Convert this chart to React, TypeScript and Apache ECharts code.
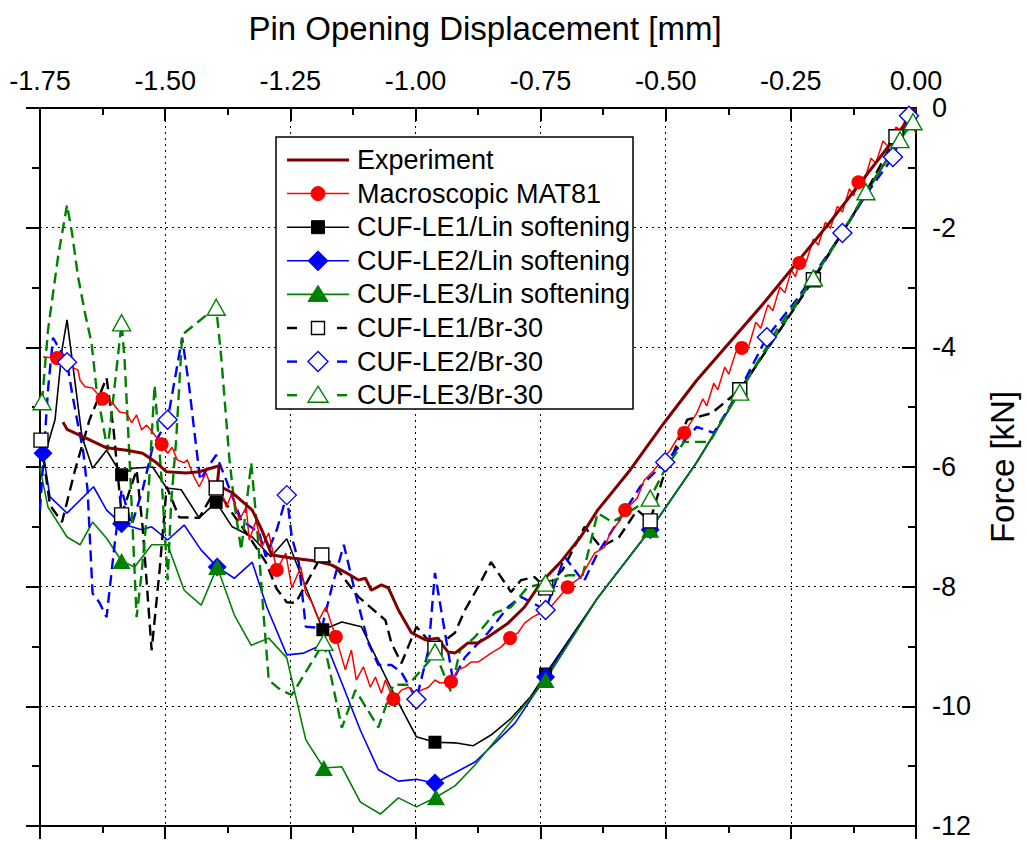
import React, { useEffect, useRef } from "react";
import * as echarts from "echarts";

type P = [number, number];

// ---------- data (x = pin opening displacement [mm], y = force [kN]) ----------
const experiment: P[] = [
  [-1.704,-5.25],[-1.696,-5.37],[-1.657,-5.52],[-1.617,-5.68],[-1.577,-5.72],[-1.545,-5.77],[-1.517,-5.93],[-1.497,-6.08],
  [-1.458,-6.10],[-1.432,-6.08],[-1.392,-5.98],[-1.396,-6.30],[-1.366,-6.43],[-1.326,-6.72],[-1.307,-7.05],[-1.287,-7.47],
  [-1.247,-7.52],[-1.199,-7.57],[-1.167,-7.64],[-1.140,-7.76],[-1.114,-7.89],[-1.100,-7.86],[-1.088,-8.06],[-1.068,-7.97],
  [-1.054,-8.02],[-1.034,-8.39],[-1.008,-8.77],[-0.980,-8.89],[-0.955,-8.86],[-0.949,-8.94],[-0.935,-9.09],[-0.921,-9.11],
  [-0.895,-8.94],[-0.875,-8.94],[-0.855,-8.84],[-0.815,-8.61],[-0.782,-8.34],[-0.750,-7.94],[-0.710,-7.59],[-0.670,-7.17],
  [-0.636,-6.72],[-0.571,-6.05],[-0.503,-5.26],[-0.438,-4.55],[-0.304,-3.26],[-0.173,-1.92],[-0.040,-0.48],[0,0]
];

const mat81: P[] = [
  [-1.744,-4.16],[-1.716,-4.18],[-1.686,-4.33],[-1.674,-4.38],[-1.670,-4.55],[-1.660,-4.66],[-1.645,-4.68],[-1.637,-4.76],
  [-1.625,-4.86],[-1.605,-4.93],[-1.591,-5.08],[-1.577,-5.10],[-1.567,-5.26],[-1.557,-5.13],[-1.547,-5.38],[-1.537,-5.30],
  [-1.525,-5.42],[-1.507,-5.62],[-1.495,-5.77],[-1.486,-5.67],[-1.476,-5.88],[-1.462,-5.93],[-1.456,-5.88],[-1.442,-6.17],
  [-1.432,-6.33],[-1.418,-6.10],[-1.406,-6.38],[-1.392,-6.27],[-1.378,-6.67],[-1.366,-6.43],[-1.352,-6.89],[-1.338,-6.67],
  [-1.332,-7.22],[-1.318,-6.89],[-1.307,-7.34],[-1.293,-7.10],[-1.277,-7.72],[-1.259,-7.44],[-1.247,-8.02],[-1.229,-7.67],
  [-1.219,-8.11],[-1.207,-8.26],[-1.193,-8.56],[-1.179,-8.34],[-1.159,-8.84],[-1.140,-9.39],[-1.128,-9.06],[-1.118,-9.56],
  [-1.104,-9.34],[-1.090,-9.68],[-1.080,-9.51],[-1.068,-9.78],[-1.060,-9.56],[-1.044,-9.88],[-1.028,-9.73],[-1.014,-9.68],
  [-1.000,-9.78],[-0.988,-9.73],[-0.974,-9.68],[-0.961,-9.56],[-0.951,-9.61],[-0.929,-9.59],[-0.915,-9.39],[-0.901,-9.34],
  [-0.889,-9.26],[-0.875,-9.26],[-0.861,-9.18],[-0.849,-9.11],[-0.829,-9.01],[-0.811,-8.86],[-0.795,-8.77],[-0.782,-8.61],
  [-0.766,-8.51],[-0.750,-8.44],[-0.730,-8.34],[-0.696,-8.01],[-0.670,-7.84],[-0.642,-7.44],[-0.622,-7.34],[-0.611,-7.10],
  [-0.591,-6.89],[-0.581,-6.72],[-0.557,-6.52],[-0.543,-6.22],[-0.523,-6.05],[-0.503,-5.83],[-0.491,-5.72],[-0.473,-5.47],
  [-0.463,-5.43],[-0.438,-5.10],[-0.426,-4.86],[-0.418,-4.98],[-0.404,-4.60],[-0.396,-4.71],[-0.382,-4.33],[-0.374,-4.45],
  [-0.360,-4.08],[-0.348,-4.01],[-0.334,-3.98],[-0.320,-3.58],[-0.310,-3.68],[-0.296,-3.29],[-0.286,-3.39],[-0.272,-2.99],
  [-0.262,-3.09],[-0.249,-2.71],[-0.241,-2.82],[-0.233,-2.59],[-0.219,-2.56],[-0.205,-2.19],[-0.195,-2.29],[-0.181,-1.91],
  [-0.171,-2.01],[-0.157,-1.64],[-0.147,-1.74],[-0.133,-1.35],[-0.125,-1.47],[-0.115,-1.24],[-0.103,-1.22],[-0.090,-0.84],
  [-0.080,-0.92],[-0.066,-0.55],[-0.056,-0.64],[-0.040,-0.32],[-0.030,-0.37],[-0.018,-0.13],[-0.010,-0.27],[0,-0.42]
];
const mat81Marks: P[] = [
  [-1.716,-4.18],[-1.625,-4.86],[-1.507,-5.62],[-1.277,-7.72],[-1.159,-8.84],[-1.044,-9.88],[-0.929,-9.59],
  [-0.811,-8.86],[-0.696,-8.01],[-0.581,-6.72],[-0.463,-5.43],[-0.348,-4.01],[-0.233,-2.59],[-0.115,-1.24]
];

// common elastic branch of the three linear-softening models
const linTail: P[] = [
  [-0.636,-8.19],[-0.531,-7.05],[-0.438,-5.92],[-0.338,-4.55],[-0.239,-3.29],[-0.139,-1.96],[-0.040,-0.62],[0,0]
];

const le1Lin: P[] = [
  [-1.750,-5.68],[-1.736,-5.67],[-1.720,-5.21],[-1.706,-4.04],[-1.696,-3.54],[-1.666,-5.50],[-1.645,-6.02],[-1.617,-5.72],
  [-1.587,-6.13],[-1.565,-6.02],[-1.525,-6.00],[-1.497,-6.35],[-1.468,-6.38],[-1.432,-6.85],[-1.398,-6.59],[-1.366,-7.00],
  [-1.326,-7.17],[-1.289,-7.50],[-1.257,-7.20],[-1.219,-8.01],[-1.185,-8.72],[-1.147,-8.59],[-1.108,-8.67],[-1.074,-9.26],
  [-1.040,-9.84],[-0.998,-10.51],[-0.961,-10.60],[-0.921,-10.61],[-0.885,-10.66],[-0.849,-10.48],[-0.809,-10.20],
  [-0.770,-9.84],[-0.740,-9.46]
];
const le1LinMarks: P[] = [[-1.587,-6.13],[-1.398,-6.59],[-1.185,-8.72],[-0.961,-10.60],[-0.740,-9.46],[-0.531,-7.05]];

const le2Lin: P[] = [
  [-1.750,-5.67],[-1.744,-5.77],[-1.730,-6.50],[-1.696,-6.77],[-1.643,-6.33],[-1.617,-6.72],[-1.587,-6.95],[-1.547,-7.05],
  [-1.527,-7.00],[-1.495,-7.22],[-1.462,-6.97],[-1.428,-7.39],[-1.396,-7.67],[-1.362,-7.86],[-1.326,-7.59],[-1.297,-8.34],
  [-1.257,-9.14],[-1.223,-9.11],[-1.179,-8.94],[-1.147,-9.61],[-1.110,-10.40],[-1.074,-11.06],[-1.034,-11.25],
  [-0.998,-11.22],[-0.961,-11.28],[-0.921,-11.11],[-0.881,-10.93],[-0.841,-10.61],[-0.801,-10.28],[-0.740,-9.51]
];
const le2LinMarks: P[] = [[-1.744,-5.77],[-1.587,-6.95],[-1.396,-7.67],[-0.961,-11.28],[-0.740,-9.51],[-0.531,-7.05]];

const le3Lin: P[] = [
  [-1.750,-6.02],[-1.734,-6.67],[-1.696,-7.17],[-1.670,-7.30],[-1.645,-6.92],[-1.617,-7.19],[-1.587,-7.57],[-1.561,-7.67],
  [-1.527,-7.30],[-1.495,-7.30],[-1.462,-8.06],[-1.428,-8.31],[-1.396,-7.67],[-1.362,-8.47],[-1.328,-8.98],[-1.293,-8.86],
  [-1.257,-9.19],[-1.219,-10.56],[-1.183,-11.03],[-1.147,-11.01],[-1.110,-11.60],[-1.070,-11.80],[-1.034,-11.53],
  [-0.998,-11.68],[-0.959,-11.52],[-0.921,-11.33],[-0.881,-10.98],[-0.740,-9.56]
];
const le3LinMarks: P[] = [[-1.587,-7.57],[-1.396,-7.67],[-1.183,-11.03],[-0.959,-11.52],[-0.740,-9.56],[-0.531,-7.05]];

const le1Br: P[] = [
  [-1.748,-5.55],[-1.730,-6.64],[-1.706,-6.92],[-1.680,-6.05],[-1.651,-5.21],[-1.631,-4.80],[-1.617,-4.51],[-1.603,-5.38],
  [-1.587,-6.80],[-1.557,-6.05],[-1.545,-7.00],[-1.527,-9.06],[-1.511,-7.72],[-1.497,-6.33],[-1.472,-6.84],[-1.432,-6.85],
  [-1.398,-6.35],[-1.366,-6.77],[-1.332,-7.17],[-1.299,-7.59],[-1.277,-8.04],[-1.257,-8.26],[-1.239,-8.27],[-1.187,-7.47],
  [-1.159,-7.67],[-1.140,-7.89],[-1.114,-8.17],[-1.060,-8.56],[-1.048,-8.94],[-1.028,-9.28],[-0.998,-8.67],[-0.980,-8.84],
  [-0.961,-9.03],[-0.921,-8.77],[-0.901,-8.39],[-0.875,-8.01],[-0.849,-7.59],[-0.809,-8.09],[-0.789,-7.89],[-0.762,-7.84],
  [-0.740,-8.02],[-0.706,-7.72],[-0.662,-7.00],[-0.630,-7.34],[-0.593,-7.17],[-0.557,-6.72],[-0.531,-6.90],[-0.507,-6.22],
  [-0.457,-5.21],[-0.408,-5.10],[-0.352,-4.71],[-0.278,-3.79],[-0.205,-2.87],[-0.119,-1.70],[-0.040,-0.48],[0,0]
];
const le1BrMarks: P[] = [
  [-1.748,-5.55],[-1.587,-6.80],[-1.398,-6.35],[-1.187,-7.47],[-0.961,-9.03],[-0.740,-8.02],[-0.531,-6.90],
  [-0.352,-4.71],[-0.205,-2.87],[-0.040,-0.48]
];

const le2Br: P[] = [
  [-1.750,-6.72],[-1.742,-5.72],[-1.734,-4.71],[-1.724,-3.84],[-1.710,-4.04],[-1.696,-4.25],[-1.686,-4.76],[-1.676,-5.21],
  [-1.664,-5.72],[-1.655,-6.38],[-1.645,-8.11],[-1.631,-8.27],[-1.617,-8.51],[-1.601,-7.30],[-1.587,-6.38],[-1.567,-6.97],
  [-1.545,-6.38],[-1.525,-5.67],[-1.495,-5.21],[-1.466,-3.84],[-1.452,-4.66],[-1.442,-5.38],[-1.430,-6.22],[-1.412,-5.97],
  [-1.398,-5.80],[-1.378,-6.22],[-1.348,-6.89],[-1.312,-7.10],[-1.299,-7.50],[-1.277,-7.05],[-1.257,-6.47],[-1.247,-7.17],
  [-1.233,-7.60],[-1.219,-8.67],[-1.187,-8.69],[-1.167,-8.01],[-1.143,-7.30],[-1.120,-8.11],[-1.094,-8.94],[-1.074,-9.31],
  [-1.048,-9.31],[-1.028,-9.43],[-0.998,-9.88],[-0.974,-9.06],[-0.961,-7.77],[-0.941,-8.77],[-0.925,-9.56],[-0.901,-9.18],
  [-0.855,-8.77],[-0.815,-8.34],[-0.789,-8.17],[-0.740,-8.39],[-0.702,-7.50],[-0.664,-7.92],[-0.636,-7.44],[-0.551,-6.33],
  [-0.501,-5.92],[-0.438,-5.33],[-0.404,-5.43],[-0.352,-4.71],[-0.298,-3.83],[-0.239,-3.21],[-0.147,-2.09],[-0.100,-1.45],
  [-0.046,-0.82],[-0.014,-0.13],[0,0]
];
const le2BrMarks: P[] = [
  [-1.696,-4.25],[-1.495,-5.21],[-1.257,-6.47],[-0.998,-9.88],[-0.740,-8.39],[-0.501,-5.92],[-0.298,-3.83],
  [-0.147,-2.09],[-0.046,-0.82],[-0.014,-0.13]
];

const le3Br: P[] = [
  [-1.746,-4.91],[-1.734,-3.71],[-1.714,-2.49],[-1.696,-1.62],[-1.686,-2.09],[-1.674,-2.82],[-1.660,-3.43],[-1.647,-3.93],
  [-1.637,-4.71],[-1.615,-5.72],[-1.587,-3.59],[-1.581,-4.21],[-1.571,-5.88],[-1.557,-8.51],[-1.547,-7.77],[-1.535,-6.67],
  [-1.521,-4.63],[-1.507,-6.22],[-1.495,-7.89],[-1.488,-6.60],[-1.478,-5.55],[-1.466,-3.79],[-1.398,-3.33],[-1.388,-4.16],
  [-1.372,-5.83],[-1.362,-6.60],[-1.348,-7.39],[-1.328,-5.93],[-1.316,-7.05],[-1.303,-8.51],[-1.293,-9.56],[-1.269,-9.73],
  [-1.247,-9.81],[-1.183,-8.93],[-1.147,-10.36],[-1.120,-9.73],[-1.074,-10.35],[-1.044,-9.64],[-1.014,-9.64],[-0.974,-9.26],
  [-0.961,-9.09],[-0.929,-9.76],[-0.911,-9.06],[-0.881,-8.84],[-0.841,-8.44],[-0.809,-8.34],[-0.776,-8.01],[-0.740,-7.94],
  [-0.696,-7.81],[-0.666,-7.81],[-0.636,-6.77],[-0.607,-6.92],[-0.567,-6.72],[-0.531,-6.52],[-0.497,-5.97],[-0.463,-5.58],
  [-0.412,-5.58],[-0.372,-5.00],[-0.352,-4.75],[-0.278,-3.71],[-0.205,-2.84],[-0.149,-2.12],[-0.100,-1.40],[-0.032,-0.53],
  [-0.006,-0.23],[0,0]
];
const le3BrMarks: P[] = [
  [-1.746,-4.91],[-1.587,-3.59],[-1.398,-3.33],[-1.183,-8.93],[-0.961,-9.09],[-0.740,-7.94],[-0.531,-6.52],
  [-0.352,-4.75],[-0.205,-2.84],[-0.100,-1.40],[-0.032,-0.53],[-0.006,-0.23]
];

const xMin = -1.75, xMax = 0, xStep = 0.25;
const yMin = -12, yMax = 0, yStep = 2;
const xTitle = "Pin Opening Displacement [mm]";
const yTitle = "Force [kN]";

// ---------- styling ----------
const FONT = "'Liberation Sans', Arial, Helvetica, sans-serif";
const C_EXP = "#800000", C_RED = "#ff0000", C_BLK = "#000000", C_BLU = "#0000ff", C_GRN = "#008000";
const DASH = [11, 6];

type Row = { name: string; color: string; width: number; dashed: boolean; symbol: string | null; filled: boolean };
const rows: Row[] = [
  { name: "Experiment", color: C_EXP, width: 3, dashed: false, symbol: null, filled: true },
  { name: "Macroscopic MAT81", color: C_RED, width: 1.5, dashed: false, symbol: "circle", filled: true },
  { name: "CUF-LE1/Lin softening", color: C_BLK, width: 1.6, dashed: false, symbol: "rect", filled: true },
  { name: "CUF-LE2/Lin softening", color: C_BLU, width: 1.6, dashed: false, symbol: "diamond", filled: true },
  { name: "CUF-LE3/Lin softening", color: C_GRN, width: 1.6, dashed: false, symbol: "triangle", filled: true },
  { name: "CUF-LE1/Br-30", color: C_BLK, width: 2.4, dashed: true, symbol: "rect", filled: false },
  { name: "CUF-LE2/Br-30", color: C_BLU, width: 2.4, dashed: true, symbol: "diamond", filled: false },
  { name: "CUF-LE3/Br-30", color: C_GRN, width: 2.4, dashed: true, symbol: "triangle", filled: false },
];

const symSize: Record<string, number | number[]> = { circle: 14, rect: 13, diamond: 19, triangle: [18, 16] };

function lineS(r: Row, data: P[], z: number) {
  return {
    type: "line", name: r.name, data, xAxisIndex: 0, yAxisIndex: 0,
    showSymbol: false, symbol: "none", silent: true, z,
    lineStyle: { color: r.color, width: r.width, type: r.dashed ? DASH : "solid" },
  };
}
function markS(r: Row, data: P[]) {
  return {
    type: "scatter", name: r.name, data, xAxisIndex: 0, yAxisIndex: 0, silent: true, z: 5,
    symbol: r.symbol, symbolSize: r.filled ? symSize[r.symbol as string] : (r.symbol === "rect" ? 14 : symSize[r.symbol as string]),
    itemStyle: r.filled
      ? { color: r.color, opacity: 1 }
      : { color: "#ffffff", borderColor: r.color, borderWidth: 1.4, opacity: 1 },
  };
}

function legendGraphic() {
  const els: any[] = [];
  const bx = 276, by = 137, bw = 357, bh = 272;
  els.push({ type: "rect", z: 100, shape: { x: bx, y: by, width: bw, height: bh }, style: { fill: "#fff", stroke: "#000", lineWidth: 1.5 } });
  rows.forEach((r, i) => {
    const y = 160 + i * 33.6;
    const mx = 318;
    if (r.dashed) {
      els.push({ type: "line", z: 101, shape: { x1: 287, y1: y, x2: 297, y2: y }, style: { stroke: r.color, lineWidth: r.width } });
      els.push({ type: "line", z: 101, shape: { x1: 337, y1: y, x2: 347, y2: y }, style: { stroke: r.color, lineWidth: r.width } });
    } else {
      els.push({ type: "line", z: 101, shape: { x1: 287, y1: y, x2: 349, y2: y }, style: { stroke: r.color, lineWidth: r.width } });
    }
    const st = r.filled
      ? { fill: r.color, stroke: r.color, lineWidth: 1 }
      : { fill: "#fff", stroke: r.color, lineWidth: 1.4 };
    if (r.symbol === "circle") els.push({ type: "circle", z: 102, shape: { cx: mx, cy: y, r: 7 }, style: st });
    if (r.symbol === "rect") els.push({ type: "rect", z: 102, shape: { x: mx - 6.5, y: y - 6.5, width: 13, height: 13 }, style: st });
    if (r.symbol === "diamond") els.push({ type: "polygon", z: 102, shape: { points: [[mx, y - 10], [mx + 10, y], [mx, y + 10], [mx - 10, y]] }, style: st });
    if (r.symbol === "triangle") els.push({ type: "polygon", z: 102, shape: { points: [[mx, y - 9], [mx + 10, y + 7], [mx - 10, y + 7]] }, style: st });
    els.push({ type: "text", z: 103, x: 357, y, style: { text: r.name, fontSize: 27, fontFamily: FONT, fill: "#000", align: "left", verticalAlign: "middle" } });
  });
  return els;
}

const axisLineStyle = { color: "#000", width: 2 };

export default function App() {
  const ref = useRef<HTMLDivElement>(null);
  useEffect(() => {
    document.body.style.margin = "0";
    const chart = echarts.init(ref.current as HTMLDivElement, null, { renderer: "svg" });
    const option: any = {
      animation: false,
      backgroundColor: "#fff",
      textStyle: { fontFamily: FONT },
      grid: { left: 40, right: 107, top: 108, bottom: 15, containLabel: false },
      xAxis: [
        {
          type: "value", position: "top", min: xMin, max: xMax, interval: xStep,
          name: xTitle, nameLocation: "middle", nameGap: 63,
          nameTextStyle: { fontSize: 33, color: "#000", fontFamily: FONT, padding: [0, 0, 0, 14] },
          axisLine: { show: true, onZero: false, lineStyle: axisLineStyle },
          axisTick: { show: true, inside: true, length: 13, lineStyle: axisLineStyle },
          minorTick: { show: true, splitNumber: 2, length: 7, lineStyle: axisLineStyle },
          axisLabel: { show: true, fontSize: 27, color: "#000", fontFamily: FONT, margin: 14, formatter: (v: number) => v.toFixed(2) },
          splitLine: { show: true, lineStyle: { color: "#000", width: 1, type: [2, 4] } },
        },
        {
          type: "value", position: "bottom", min: xMin, max: xMax, interval: xStep,
          axisLine: { show: true, onZero: false, lineStyle: axisLineStyle },
          axisTick: { show: true, inside: false, length: 13, lineStyle: axisLineStyle },
          minorTick: { show: true, splitNumber: 2, length: 7, lineStyle: axisLineStyle },
          axisLabel: { show: false },
          splitLine: { show: false },
        },
      ],
      yAxis: [
        {
          type: "value", position: "right", min: yMin, max: yMax, interval: yStep,
          name: yTitle, nameLocation: "middle", nameRotate: 90, nameGap: 70,
          nameTextStyle: { fontSize: 33, color: "#000", fontFamily: FONT },
          axisLine: { show: true, onZero: false, lineStyle: axisLineStyle },
          axisTick: { show: true, inside: true, length: 14, lineStyle: axisLineStyle },
          minorTick: { show: true, splitNumber: 2, length: 8, lineStyle: axisLineStyle },
          axisLabel: { show: true, fontSize: 27, color: "#000", fontFamily: FONT, margin: 16 },
          splitLine: { show: true, lineStyle: { color: "#000", width: 1, type: [2, 4] } },
        },
        {
          type: "value", position: "left", min: yMin, max: yMax, interval: yStep,
          axisLine: { show: true, onZero: false, lineStyle: axisLineStyle },
          axisTick: { show: true, inside: false, length: 14, lineStyle: axisLineStyle },
          minorTick: { show: true, splitNumber: 2, length: 8, lineStyle: axisLineStyle },
          axisLabel: { show: false },
          splitLine: { show: false },
        },
      ],
      series: [
        lineS(rows[0], experiment, 4),
        lineS(rows[1], mat81, 3),
        lineS(rows[2], le1Lin.concat(linTail), 2),
        lineS(rows[3], le2Lin.concat(linTail), 2),
        lineS(rows[4], le3Lin.concat(linTail), 2),
        lineS(rows[5], le1Br, 2),
        lineS(rows[6], le2Br, 2),
        lineS(rows[7], le3Br, 2),
        markS(rows[1], mat81Marks),
        markS(rows[2], le1LinMarks),
        markS(rows[3], le2LinMarks),
        markS(rows[4], le3LinMarks),
        markS(rows[5], le1BrMarks),
        markS(rows[6], le2BrMarks),
        markS(rows[7], le3BrMarks),
      ],
      graphic: { elements: legendGraphic() },
    };
    chart.setOption(option);
    return () => chart.dispose();
  }, []);
  return <div ref={ref} style={{ position: "absolute", left: 0, top: 0, width: 1027, height: 841 }} />;
}
